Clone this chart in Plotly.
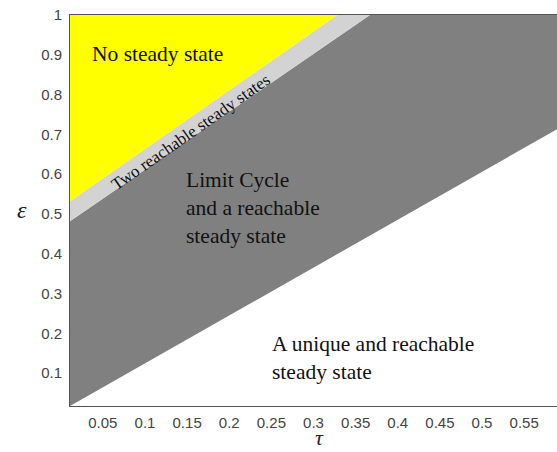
import plotly.graph_objects as go

# Boundary lines (tau, epsilon)
# yellow / light-gray boundary
b1_tau = [0.011, 0.328]
b1_eps = [0.532, 1.0]
# light-gray / dark-gray boundary
b2_tau = [0.011, 0.367]
b2_eps = [0.482, 1.0]
# dark-gray / white boundary
b3_tau = [0.011, 0.589]
b3_eps = [0.0175, 0.713]

x_range = [0.011, 0.589]
y_range = [0.0175, 1.0]

x_ticks = [0.05, 0.1, 0.15, 0.2, 0.25, 0.3, 0.35, 0.4, 0.45, 0.5, 0.55]
x_ticklabels = ["0.05", "0.1", "0.15", "0.2", "0.25", "0.3", "0.35", "0.4", "0.45", "0.5", "0.55"]
y_ticks = [0.1, 0.2, 0.3, 0.4, 0.5, 0.6, 0.7, 0.8, 0.9, 1.0]
y_ticklabels = ["0.1", "0.2", "0.3", "0.4", "0.5", "0.6", "0.7", "0.8", "0.9", "1"]

YELLOW = "#ffff00"
LIGHT = "#d3d3d3"
DARK = "#808080"

xmin, xmax = x_range
ymin, ymax = y_range

fig = go.Figure()

# dark gray region: between b2 and b3, including top-right corner
fig.add_trace(go.Scatter(
    x=[b3_tau[0], b3_tau[1], xmax, b2_tau[1], b2_tau[0]],
    y=[b3_eps[0], b3_eps[1], ymax, b2_eps[1], b2_eps[0]],
    fill="toself", fillcolor=DARK, mode="lines", line=dict(width=0),
    hoverinfo="skip", showlegend=False))

# light gray band: between b1 and b2
fig.add_trace(go.Scatter(
    x=[b2_tau[0], b2_tau[1], b1_tau[1], b1_tau[0]],
    y=[b2_eps[0], b2_eps[1], b1_eps[1], b1_eps[0]],
    fill="toself", fillcolor=LIGHT, mode="lines", line=dict(width=0),
    hoverinfo="skip", showlegend=False))

# yellow region: above b1
fig.add_trace(go.Scatter(
    x=[b1_tau[0], b1_tau[1], xmin],
    y=[b1_eps[0], b1_eps[1], ymax],
    fill="toself", fillcolor=YELLOW, mode="lines", line=dict(width=0),
    hoverinfo="skip", showlegend=False))

serif = "Liberation Serif, Times New Roman, serif"
txt = "#111111"

fig.add_annotation(x=0.0348, y=0.902, text="No steady state", showarrow=False,
                   xanchor="left", yanchor="middle",
                   font=dict(family=serif, size=21.5, color=txt))
fig.add_annotation(x=0.1535, y=0.706, text="Two reachable steady states", showarrow=False,
                   xanchor="center", yanchor="middle", textangle=-35,
                   font=dict(family=serif, size=17, color=txt))
fig.add_annotation(x=0.1464, y=0.514, text="Limit Cycle<br>and a reachable<br>steady state",
                   showarrow=False, xanchor="left", yanchor="middle", align="left",
                   font=dict(family=serif, size=21.5, color=txt))
fig.add_annotation(x=0.2485, y=0.137, text="A unique and reachable<br>steady state",
                   showarrow=False, xanchor="left", yanchor="middle", align="left",
                   font=dict(family=serif, size=21.5, color=txt))

# axis titles
fig.add_annotation(xref="paper", yref="paper", x=-0.0986, y=0.501, text="<i>ε</i>",
                   showarrow=False, xanchor="center", yanchor="middle",
                   font=dict(family=serif, size=24, color="#222222"))
fig.add_annotation(xref="paper", yref="paper", x=0.513, y=-0.114, text="<i>τ</i>",
                   showarrow=False, xanchor="center", yanchor="bottom",
                   borderpad=0,
                   font=dict(family=serif, size=22, color="#222222"))

tickfont = dict(family="Liberation Sans, Arial, sans-serif", size=15, color="#444444")

fig.update_xaxes(range=x_range, tickvals=x_ticks, ticktext=x_ticklabels,
                 showgrid=False, zeroline=False, ticks="", automargin=False,
                 showline=True, linecolor="#555555", linewidth=1, mirror=True,
                 tickfont=tickfont, ticklabelstandoff=3)
fig.update_yaxes(range=y_range, tickvals=y_ticks, ticktext=y_ticklabels,
                 showgrid=False, zeroline=False, ticks="", automargin=False,
                 showline=True, linecolor="#555555", linewidth=1, mirror=False,
                 tickfont=tickfont, ticklabelstandoff=4)

fig.update_layout(width=557, height=452,
                  margin=dict(l=70, r=0, t=15, b=46),
                  plot_bgcolor="white", paper_bgcolor="white")

fig.write_html("out.html", config={"responsive": False, "displayModeBar": False},
               post_script="document.body.style.margin='0px';document.body.style.overflow='hidden';")
